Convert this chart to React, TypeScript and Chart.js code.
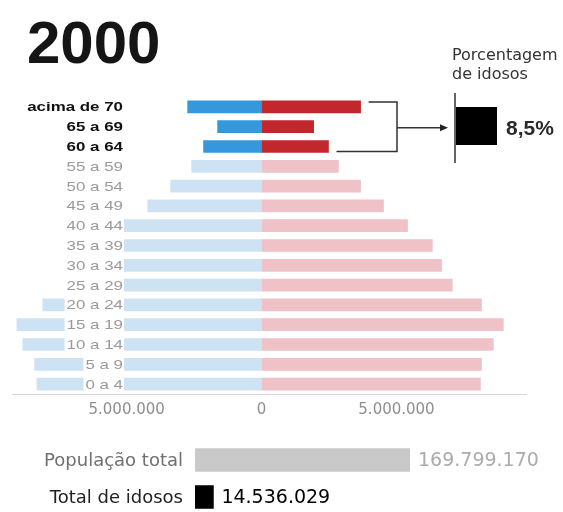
import React, { useEffect, useRef } from 'react';
import { Chart, registerables } from 'chart.js';

Chart.register(...registerables);

const YEAR_TITLE = '2000';
const AGE_GROUPS = [
  'acima de 70', '65 a 69', '60 a 64', '55 a 59', '50 a 54', '45 a 49', '40 a 44',
  '35 a 39', '30 a 34', '25 a 29', '20 a 24', '15 a 19', '10 a 14', '5 a 9', '0 a 4',
];
const MEN = [
  2740000, 1630000, 2150000, 2590000, 3370000, 4220000, 5110000,
  6040000, 6370000, 6810000, 8110000, 9070000, 8850000, 8410000, 8330000,
];
const WOMEN = [
  3670000, 1930000, 2480000, 2850000, 3670000, 4520000, 5410000,
  6330000, 6670000, 7070000, 8150000, 8960000, 8590000, 8150000, 8110000,
];
const ELDERLY_GROUPS = 3;
const X_TICKS = [-5000000, 0, 5000000];
const X_MIN = -9250000;
const X_MAX = 9800000;

const TOTAL_LABELS = ['População total', 'Total de idosos'];
const TOTAL_VALUES = [169799170, 14536029];

const SHARE_TITLE = ['Porcentagem', 'de idosos'];
const SHARE_TEXT = '8,5%';

const fmt = (n: number) =>
  Math.round(Math.abs(n)).toString().replace(/\B(?=(\d{3})+(?!\d))/g, '.');

const LABEL_RIGHT = 123;

const pyramidPlugin = {
  id: 'pyramidDecor',
  afterDraw(chart: any) {
    const ctx = chart.ctx;
    const ys = chart.scales.y;
    const xs = chart.scales.x;
    ctx.save();

    // Title
    ctx.fillStyle = '#151515';
    ctx.font = 'bold 60px "Liberation Sans", Arial, sans-serif';
    ctx.textAlign = 'left';
    ctx.textBaseline = 'alphabetic';
    ctx.fillText(YEAR_TITLE, 27, 63);

    // Category labels
    AGE_GROUPS.forEach((label, i) => {
      const py = ys.getPixelForValue(i);
      const bold = i < ELDERLY_GROUPS;
      ctx.font = `${bold ? 'bold ' : ''}13px "Liberation Sans", Arial, sans-serif`;
      const w = ctx.measureText(label).width * 1.3;
      ctx.fillStyle = '#ffffff';
      ctx.fillRect(LABEL_RIGHT - w - 2, py - 7, w + 3, 14);
      ctx.save();
      ctx.translate(LABEL_RIGHT, py + 1);
      ctx.scale(1.3, 1);
      ctx.textAlign = 'right';
      ctx.textBaseline = 'middle';
      ctx.fillStyle = bold ? '#111111' : '#9a9a9a';
      ctx.fillText(label, 0, 0);
      ctx.restore();
    });

    // Bracket + arrow
    const top = ys.getPixelForValue(0) - 5;
    const bot = ys.getPixelForValue(ELDERLY_GROUPS - 1) + 5;
    const mid = ys.getPixelForValue(1) + 1;
    const bx = 397;
    ctx.strokeStyle = '#333333';
    ctx.lineWidth = 1.5;
    ctx.beginPath();
    ctx.moveTo(xs.getPixelForValue(WOMEN[0]) + 8, top);
    ctx.lineTo(bx, top);
    ctx.lineTo(bx, bot);
    ctx.lineTo(xs.getPixelForValue(WOMEN[ELDERLY_GROUPS - 1]) + 8, bot);
    ctx.stroke();
    ctx.beginPath();
    ctx.moveTo(bx, mid);
    ctx.lineTo(441, mid);
    ctx.stroke();
    ctx.fillStyle = '#222222';
    ctx.beginPath();
    ctx.moveTo(448, mid);
    ctx.lineTo(440, mid - 3.5);
    ctx.lineTo(440, mid + 3.5);
    ctx.closePath();
    ctx.fill();

    // Share indicator
    ctx.beginPath();
    ctx.moveTo(455, 93);
    ctx.lineTo(455, 163);
    ctx.stroke();
    ctx.fillStyle = '#000000';
    ctx.fillRect(456, 107, 41, 38);
    ctx.fillStyle = '#2a2a2a';
    ctx.font = 'bold 21px "Liberation Sans", Arial, sans-serif';
    ctx.textAlign = 'left';
    ctx.textBaseline = 'middle';
    ctx.fillText(SHARE_TEXT, 506, 129);

    ctx.fillStyle = '#333333';
    ctx.font = '16px "DejaVu Sans", sans-serif';
    ctx.fillText(SHARE_TITLE[0], 452, 56);
    ctx.fillText(SHARE_TITLE[1], 452, 75);

    ctx.restore();
  },
};

const totalsPlugin = {
  id: 'totalsValues',
  afterDatasetsDraw(chart: any) {
    const ctx = chart.ctx;
    const meta = chart.getDatasetMeta(0);
    const ys = chart.scales.y;
    const valueColors = ['#ababab', '#000000'];
    const labelColors = ['#707070', '#222222'];
    ctx.save();
    ctx.textBaseline = 'middle';
    ctx.font = '18px "DejaVu Sans", sans-serif';
    ctx.textAlign = 'right';
    TOTAL_LABELS.forEach((label, i) => {
      ctx.fillStyle = labelColors[i];
      ctx.fillText(label, 183, ys.getPixelForValue(i) + 1);
    });
    ctx.font = '19px "DejaVu Sans", sans-serif';
    ctx.textAlign = 'left';
    meta.data.forEach((bar: any, i: number) => {
      ctx.fillStyle = valueColors[i];
      ctx.fillText(fmt(TOTAL_VALUES[i]), bar.x + 8, bar.y + 1);
    });
    ctx.restore();
  },
};

export default function App() {
  const pyrRef = useRef<HTMLCanvasElement>(null);
  const totRef = useRef<HTMLCanvasElement>(null);

  useEffect(() => {
    const menColors = AGE_GROUPS.map((_, i) => (i < ELDERLY_GROUPS ? '#3598dc' : '#cde3f4'));
    const womenColors = AGE_GROUPS.map((_, i) => (i < ELDERLY_GROUPS ? '#c1272d' : '#eec2c6'));

    const pyramid = new Chart(pyrRef.current as HTMLCanvasElement, {
      type: 'bar',
      data: {
        labels: AGE_GROUPS,
        datasets: [
          { label: 'Homens', data: MEN.map((v) => -v), backgroundColor: menColors, barThickness: 12, borderWidth: 0 },
          { label: 'Mulheres', data: WOMEN, backgroundColor: womenColors, barThickness: 12, borderWidth: 0 },
        ],
      },
      options: {
        indexAxis: 'y',
        responsive: false,
        maintainAspectRatio: false,
        animation: false,
        layout: { padding: { top: 97, left: 12, right: 37, bottom: 1 } },
        plugins: { legend: { display: false }, tooltip: { enabled: false } },
        scales: {
          x: {
            stacked: true,
            min: X_MIN,
            max: X_MAX,
            grid: { display: false, drawTicks: false },
            border: { display: true, color: '#d6d6d6', width: 1 },
            afterBuildTicks: (s: any) => {
              s.ticks = X_TICKS.map((v) => ({ value: v }));
            },
            ticks: {
              padding: 7,
              color: '#8f8f8f',
              font: { family: '"DejaVu Sans", sans-serif', size: 15 },
              maxRotation: 0,
              callback: (v: any) => fmt(Number(v)),
            },
          },
          y: { stacked: true, display: false },
        },
      } as any,
      plugins: [pyramidPlugin],
    });

    const totals = new Chart(totRef.current as HTMLCanvasElement, {
      type: 'bar',
      data: {
        labels: TOTAL_LABELS,
        datasets: [
          {
            data: TOTAL_VALUES,
            backgroundColor: ['#c9c9c9', '#000000'],
            barThickness: 23,
            borderWidth: 0,
          } as any,
        ],
      },
      options: {
        indexAxis: 'y',
        responsive: false,
        maintainAspectRatio: false,
        animation: false,
        layout: { padding: { top: 36.5, bottom: 9.5, left: 195, right: 153 } },
        plugins: { legend: { display: false }, tooltip: { enabled: false } },
        scales: {
          x: { display: false, min: 0, max: TOTAL_VALUES[0] },
          y: { display: false },
        },
      } as any,
      plugins: [totalsPlugin],
    });

    return () => {
      pyramid.destroy();
      totals.destroy();
    };
  }, []);

  return (
    <div style={{ position: 'absolute', left: 0, top: 0, width: 563, height: 512, overflow: 'hidden', background: '#fff' }}>
      <canvas ref={pyrRef} width={563} height={427} style={{ position: 'absolute', left: 0, top: 0 }} />
      <canvas ref={totRef} width={563} height={120} style={{ position: 'absolute', left: 0, top: 405 }} />
    </div>
  );
}
